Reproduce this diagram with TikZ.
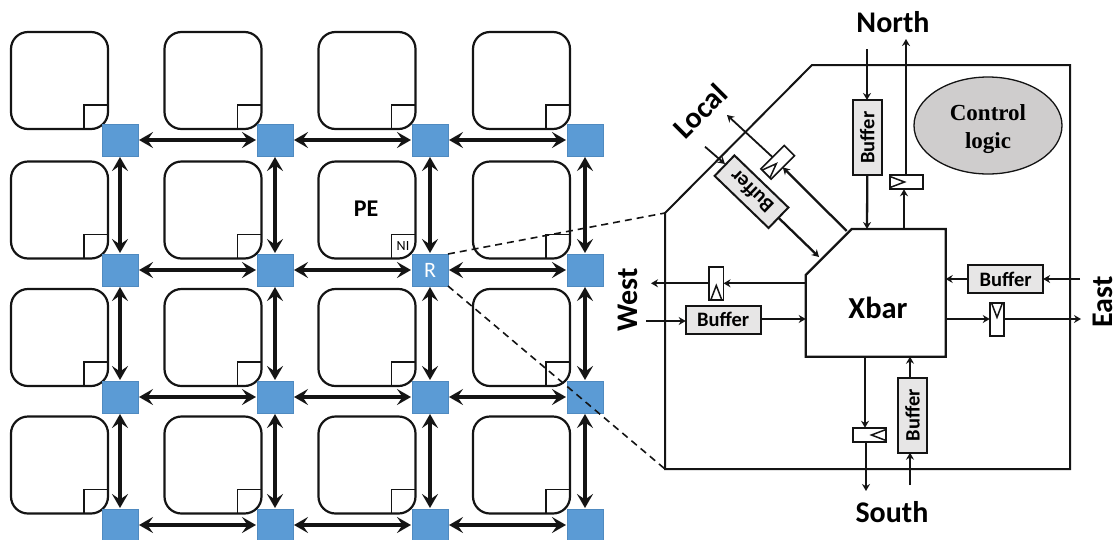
\documentclass[tikz,border=0pt]{standalone}
\usepackage{fontspec}
\setmainfont{Carlito}
\newfontfamily\serifctl{Liberation Serif}
\usetikzlibrary{arrows.meta,calc,shapes.geometric}
\definecolor{routerblue}{HTML}{5B9BD5}
\definecolor{routeredge}{HTML}{4F8AC0}
\definecolor{bufgray}{HTML}{E7E6E6}
\definecolor{ctlgray}{HTML}{CFCDCD}
\definecolor{inkc}{HTML}{141414}
\tikzset{
  x=1pt,y=-1pt,
  pebox/.style={draw=inkc,line width=2.2pt,rounded corners=17pt,minimum width=97pt,minimum height=97pt,inner sep=0pt,outer sep=0pt},
  router/.style={draw=routeredge,line width=.8pt,fill=routerblue,minimum width=36pt,minimum height=32pt,inner sep=0pt,outer sep=0pt,text=white,font=\fontsize{22}{22}\selectfont},
  meshlink/.style={draw=inkc,line width=3.1pt,{Stealth[length=14pt,width=16pt,inset=5.5pt]}-{Stealth[length=14pt,width=16pt,inset=5.5pt]},shorten >=1pt,shorten <=1pt},
  corner/.style={draw=inkc,line width=1.8pt},
  bufbox/.style={draw=inkc,line width=2pt,fill=bufgray,inner sep=0pt,outer sep=0pt,minimum width=75pt,minimum height=28.5pt,font=\bfseries\fontsize{20.5}{20.5}\selectfont},
  flopbox/.style={draw=inkc,line width=1.7pt,fill=white,inner sep=0pt,outer sep=0pt,minimum width=33pt,minimum height=14.5pt},
  wire/.style={draw=inkc,line width=2.3pt,-{Stealth[length=7pt,width=8pt]}},
  thinwire/.style={wire,line width=1.8pt},
  dir/.style={font=\bfseries\fontsize{30}{30}\selectfont,inner sep=0pt},
  dash link/.style={draw=inkc,line width=1.6pt,dash pattern=on 7pt off 5pt},
}
\newcommand{\flopmark}[1]{\draw[draw=inkc,line width=1.5pt,line join=miter] ($(#1.north west)!.12!(#1.south west)$) -- ($(#1.west)!.44!(#1.east)$) -- ($(#1.north west)!.88!(#1.south west)$);}
\begin{document}
\begin{tikzpicture}
\useasboundingbox (0,0) rectangle (1120,539);
\clip (0,0) rectangle (1120,539);
% mesh
\foreach \cx/\i in {59.5/1,213/2,367/3,521.5/4}{
  \foreach \cy/\j in {80.5/1,210/2,337.5/3,465/4}{
    \node[pebox] (pe\i\j) at (\cx,\cy) {};
    \draw[corner] ($(pe\i\j.south east)+(-24,0)$) -- ++(0,-24) -- ++(24,0);
  }
}
\foreach \cx/\i in {120/1,275/2,430/3,585/4}{
  \foreach \cy/\j in {140/1,270/2,397/3,525/4}{
    \node[router] (r\i\j) at (\cx,\cy) {};
  }
}
\node[router,draw=none,fill=none] (rlabel) at (r32) {R};
\foreach \j in {1,2,3,4}{
  \draw[meshlink] (r1\j) -- (r2\j);
  \draw[meshlink] (r2\j) -- (r3\j);
  \draw[meshlink] (r3\j) -- (r4\j);
}
\foreach \i in {1,2,3,4}{
  \draw[meshlink] (r\i1) -- (r\i2);
  \draw[meshlink] (r\i2) -- (r\i3);
  \draw[meshlink] (r\i3) -- (r\i4);
}
\node[font=\bfseries\fontsize{24}{24}\selectfont,inner sep=0pt] (pelabel) at (366,209) {PE};
\node[font=\fontsize{14}{14}\selectfont,inner sep=0pt] (nilabel) at (403,246.5) {NI};
% router detail outline
\coordinate (oa) at (665,213);
\coordinate (ob) at (665,469);
\draw[draw=inkc,line width=2pt] (oa) -- (812,65) -- (1070,65) -- (1070,469) -- (ob) -- cycle;
\draw[dash link] (r32.north east) -- (oa);
\draw[dash link] (r32.south east) -- (ob);
% xbar
\draw[draw=inkc,line width=2.2pt,fill=white] (851.7,229) -- (945.7,229) -- (945.7,356.7) -- (805.7,356.7) -- (805.7,275) -- cycle;
\node[font=\bfseries\fontsize{30.5}{30.5}\selectfont,inner sep=0pt] (xbarlabel) at (878,308) {Xbar};
% control logic
\node[ellipse,draw=inkc,line width=1.3pt,fill=ctlgray,minimum width=148pt,minimum height=97pt,inner sep=0pt] (ctl) at (988,125.5) {};
\node[align=center,inner sep=0pt,font=\serifctl\bfseries\fontsize{23}{28}\selectfont] (ctltext) at (988,129.5) {Control\\logic};
% buffers
\node[bufbox,rotate=90] (bn) at (867.3,137.5) {Buffer};
\node[bufbox,rotate=90] (bs) at (912.5,415.2) {Buffer};
\node[bufbox] (bw) at (723.2,319.8) {Buffer};
\node[bufbox] (be) at (1005.6,279) {Buffer};
\node[bufbox,rotate=136] (bl) at (751.5,191.7) {Buffer};
% flops
\node[flopbox] (fn) at (906.5,182) {};
\node[flopbox,rotate=180] (fs) at (869.5,435) {};
\node[flopbox,rotate=90] (fw) at (716.3,283.5) {};
\node[flopbox,rotate=-90] (fe) at (997,319.3) {};
\node[flopbox,rotate=45] (fl) at (777.7,162.3) {};
\flopmark{fn}\flopmark{fs}\flopmark{fw}\flopmark{fe}\flopmark{fl}
% ports and free ends
\coordinate (nin) at (867,49);
\coordinate (nout) at (906,39);
\coordinate (xn1) at (867,229);
\coordinate (xn2) at (904,229);
\coordinate (lin) at (705,146.7);
\coordinate (lbi) at (725,164);
\coordinate (lout) at (727,115);
\coordinate (xl1) at (846.7,231);
\coordinate (xl2) at (819,257);
\coordinate (wout) at (651,283.3);
\coordinate (win) at (646,321);
\coordinate (xw1) at (804.5,283.3);
\coordinate (xw2) at (805.7,319);
\coordinate (ein) at (1080,279);
\coordinate (eout) at (1081,319);
\coordinate (xe1) at (945.7,279);
\coordinate (xe2) at (945.7,319);
\coordinate (sin) at (910,485);
\coordinate (sout) at (866,491);
\coordinate (xs1) at (865,356.7);
\coordinate (xs2) at (910,356.7);
% wires
\draw[wire] (nin) -- (nin |- bn.east);
\draw[wire] (bn.west) -- (xn1);
\draw[wire] (xn2) -- (xn2 |- fn.south);
\draw[wire] (fn.north -| nout) -- (nout);
\draw[thinwire] (lin) -- (lbi);
\draw[wire] (bl.west) -- (xl2);
\draw[wire] (xl1) -- (fl.south);
\draw[thinwire] (fl.north) -- (lout);
\draw[wire] (xw1) -- (fw.south |- xw1);
\draw[thinwire] (fw.north |- xw1) -- (wout);
\draw[wire] (win) -- (bw.west |- win);
\draw[wire] (bw.east |- xw2) -- (xw2);
\draw[wire] (ein) -- (be.east);
\draw[wire] (be.west) -- (xe1);
\draw[wire] (xe2) -- (fe.south |- xe2);
\draw[wire] (fe.north |- xe2) -- (eout);
\draw[wire] (xs1) -- (xs1 |- fs.south);
\draw[wire] (sout |- fs.north) -- (sout);
\draw[wire] (sin) -- (sin |- bs.west);
\draw[wire] (sin |- bs.east) -- (xs2);
% labels
\node[dir] (lnorth) at (893,22) {North};
\node[dir] (lsouth) at (892,512) {South};
\node[dir,rotate=90] (lwest) at (628,300) {West};
\node[dir,rotate=90] (least) at (1103,302) {East};
\node[dir,rotate=45] (llocal) at (700,111) {Local};
\end{tikzpicture}
\end{document}
